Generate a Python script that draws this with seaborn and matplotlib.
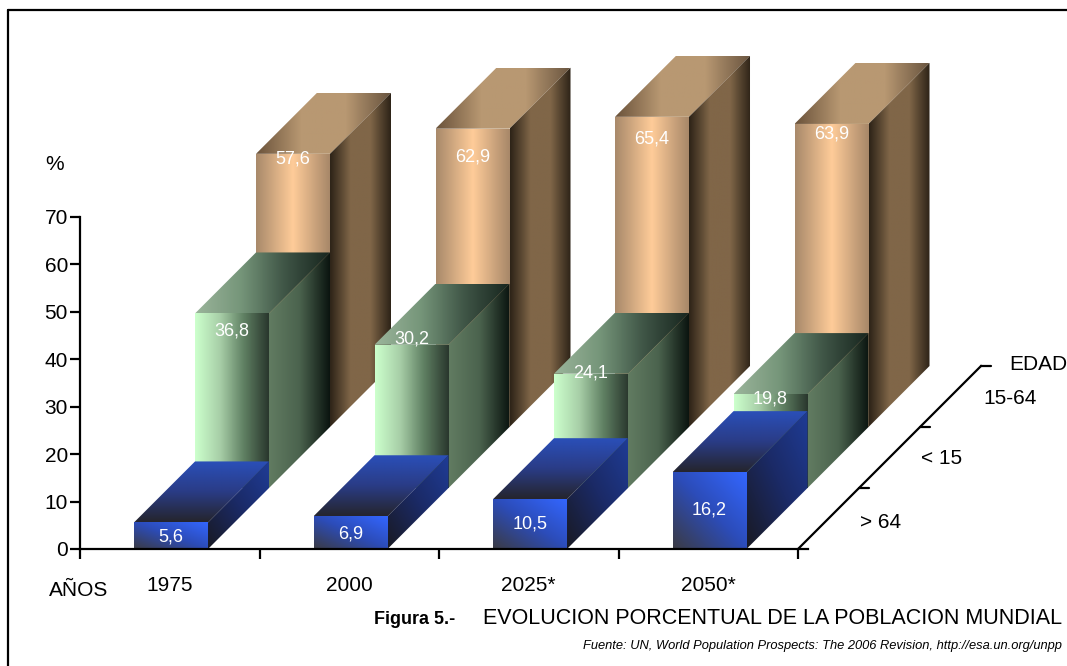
import numpy as np
import pandas as pd
import matplotlib
matplotlib.use("Agg")
import matplotlib.pyplot as plt
from matplotlib.lines import Line2D
from matplotlib.patches import Polygon
import seaborn as sns

# Share of world population by age band, in percent
periodos = ["1975", "2000", "2025*", "2050*"]
mayores_64 = [5.6, 6.9, 10.5, 16.2]
menores_15 = [36.8, 30.2, 24.1, 19.8]
edad_15_64 = [57.6, 62.9, 65.4, 63.9]

W, H = 1067, 666
X0, Y0 = 80, 549          # pixel position of the plot origin
PX_CAT = 179.5            # pixels per category
PX_PCT = 332 / 70         # pixels per percentage point
DEPTH_PX = 61             # oblique offset of one depth row
BAR_PX = 74
CENTRE_SHIFT = 0.007

sns.set_style("white")
plt.rcParams["font.family"] = ["Liberation Sans", "DejaVu Sans"]

fig = plt.figure(figsize=(W / 100, H / 100), dpi=100, facecolor="white")
ax = fig.add_axes([X0 / W, (H - Y0) / H, (W - X0) / W, Y0 / H])
ax.patch.set_alpha(0)

DX = DEPTH_PX / PX_CAT
DY = DEPTH_PX / PX_PCT
LINE = 1.6


def ramp(*colors):
    return sns.blend_palette(list(colors), n_colors=40, as_cmap=True)


# Face ramps for each depth row: front, top, side
estilos = [
    dict(front=(ramp("#3b3b44", "#2c4cb8", "#3366ff"), "diag"),
         top=(ramp("#25252e", "#2a3c86", "#2a4fb8"), "y"),
         side=(ramp("#191a24", "#1b2a66", "#1f3c96"), "diag")),
    dict(front=(ramp("#ccffcc", "#a8cfa8", "#5f7f62", "#2a382e"), "x"),
         top=(ramp("#9ab49a", "#76967a", "#3f5546", "#18261f"), "x"),
         side=(ramp("#617b61", "#4b634e", "#0b1510"), "x")),
    dict(front=(ramp("#a98a6b", "#ffcc99", "#a88869"), "x"),
         top=(ramp("#6c543c", "#b89872", "#b89872", "#6a5540"), "x"),
         side=(ramp("#2e2418", "#806648", "#806648", "#2e2418"), "x")),
]


def shade(points, cmap, direction, zorder):
    """Fill a face with a gradient limited to the face outline."""
    pts = np.asarray(points)
    x0, x1 = pts[:, 0].min(), pts[:, 0].max()
    y0, y1 = pts[:, 1].min(), pts[:, 1].max()
    u, v = np.meshgrid(np.linspace(0, 1, 64), np.linspace(0, 1, 64))
    t = {"x": u, "y": v, "diag": (u + v) / 2}[direction]
    im = ax.imshow(t, cmap=cmap, vmin=0, vmax=1, origin="lower", aspect="auto",
                   extent=(x0, x1, y0, y1), zorder=zorder, interpolation="bilinear")
    outline = Polygon(pts, closed=True, transform=ax.transData, fc="none", ec="none")
    ax.add_patch(outline)
    im.set_clip_path(outline)


filas = [("15-64", edad_15_64, 2), ("< 15", menores_15, 1), ("> 64", mayores_64, 0)]
caidas = {
    0: [15, 18, 25, 38],
    1: [18, -6, -1, 5],
    2: [5, 28, 22, 10],
}

# Rows are drawn from the back so nearer bars cover farther ones
for nombre, valores, k in filas:
    tabla = pd.DataFrame({"periodo": periodos, "valor": valores})
    antes = len(ax.patches)
    sns.barplot(data=tabla, x="periodo", y="valor", order=periodos,
                width=BAR_PX / PX_CAT, color="white", errorbar=None, ax=ax)
    barras = ax.patches[antes:]
    z = 10 + (2 - k) * 5
    for i, (bar, valor) in enumerate(zip(barras, valores)):
        bar.set_x(bar.get_x() + CENTRE_SHIFT + k * DX)
        bar.set_y(k * DY)
        bar.set_facecolor("none")
        bar.set_edgecolor("none")
        xa, xb = bar.get_x(), bar.get_x() + bar.get_width()
        ya, yb = bar.get_y(), bar.get_y() + bar.get_height()
        est = estilos[k]
        shade([(xa, ya), (xb, ya), (xb, yb), (xa, yb)], *est["front"], z)
        shade([(xa, yb), (xb, yb), (xb + DX, yb + DY), (xa + DX, yb + DY)], *est["top"], z)
        shade([(xb, ya), (xb + DX, ya + DY), (xb + DX, yb + DY), (xb, yb)], *est["side"], z)
        ax.annotate(f"{valor:.1f}".replace(".", ","),
                    xy=((xa + xb) / 2, yb), xytext=(0, -caidas[k][i] * 0.72),
                    textcoords="offset points", ha="center", va="center",
                    color="white", fontsize=13, zorder=40)

# Axis ranges follow the pixel scale so the oblique rows fit inside the axes
ax.set_xlim(-0.5, -0.5 + (W - X0) / PX_CAT)
ax.set_ylim(0, Y0 / PX_PCT)
ax.set_xlabel("")
ax.set_ylabel("")

for lado in ("top", "right"):
    ax.spines[lado].set_visible(False)
ax.spines["left"].set_bounds(0, 70)
ax.spines["bottom"].set_bounds(-0.5, 3.5 + 10 / PX_CAT)
for lado in ("left", "bottom"):
    ax.spines[lado].set_linewidth(LINE)
    ax.spines[lado].set_color("black")
    ax.spines[lado].set_zorder(50)

ax.set_yticks(np.arange(0, 71, 10))
ax.set_xticks(np.arange(len(periodos)))
ax.set_xticklabels(periodos)
ax.set_xticks(np.arange(-0.5, 3.6, 1), minor=True)
ax.tick_params(axis="y", which="major", left=True, length=7.2, width=LINE, pad=1.5,
               labelsize=15, color="black", labelcolor="black")
ax.tick_params(axis="x", which="major", bottom=False, length=0, pad=19.5,
               labelsize=15, labelcolor="black")
ax.tick_params(axis="x", which="minor", bottom=True, length=7.2, width=LINE, color="black")

# Depth axis with its row ticks
xf = 3.5
ax.plot([xf, xf + 3 * DX], [0, 3 * DY], color="black", lw=LINE, zorder=50,
        solid_capstyle="projecting")
for k in (1, 2, 3):
    ax.plot([xf + k * DX, xf + k * DX + 10 / PX_CAT], [k * DY, k * DY],
            color="black", lw=LINE, zorder=50)


def rotulo(x, y, s, **kw):
    kw.setdefault("fontsize", 15)
    kw.setdefault("ha", "center")
    kw.setdefault("va", "center")
    return fig.text(x / W, 1 - y / H, s, color="black", **kw)


rotulo(55, 165, "%")
rotulo(79, 591, "AÑOS")
rotulo(881, 523, "> 64")
rotulo(942, 458, "< 15")
rotulo(1010, 398, "15-64")
rotulo(1038, 365, "EDAD")

rotulo(1062, 619, "EVOLUCION PORCENTUAL DE LA POBLACION MUNDIAL", ha="right", fontsize=15.5)
rotulo(374, 619, "Figura 5.-", ha="left", fontsize=13, fontweight="bold")
rotulo(1062, 646, "Fuente: UN, World Population Prospects: The 2006 Revision, http://esa.un.org/unpp",
       ha="right", fontsize=9.3, style="italic")

# Outer border: only the top and left edges are drawn
for xs, ys in (((8, W), (10, 10)), ((8, 8), (10, H))):
    fig.add_artist(Line2D([x / W for x in xs], [1 - y / H for y in ys],
                          color="black", lw=LINE, transform=fig.transFigure))

fig.savefig("out.png", dpi=100, facecolor="white")
